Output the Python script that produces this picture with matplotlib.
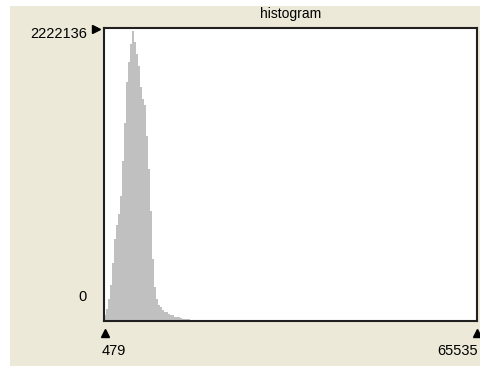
import numpy as np
import matplotlib.pyplot as plt
from matplotlib.patches import Rectangle

# histogram of 16-bit pixel values (counts per bin)
x_min = 479
x_max = 65535
y_max = 2222136
bin_width = 348
counts = [42000, 95000, 171000, 277000, 444000, 627000, 733000, 817000,
          953000, 1219000, 1508000, 1827000, 1979000, 2116000, 2210000,
          2131000, 2040000, 1949000, 1789000, 1690000, 1645000, 1409000,
          1159000, 839000, 475000, 262000, 171000, 125000, 103000, 87000,
          72000, 65000, 57000, 49000, 42000, 34000, 30000, 27000, 23000,
          19000, 17000, 14000, 12000, 10000, 8000, 7000, 5000, 4000]

W, H = 481, 366
bg = '#ECE9D8'

fig = plt.figure(figsize=(W / 100, H / 100), dpi=100)
fig.patch.set_facecolor('white')
fig.patches.append(Rectangle((10 / W, 0), 1, 1 - 6 / H, transform=fig.transFigure,
                             facecolor=bg, edgecolor='none', zorder=-5))

def px(x, y):
    return x / W, 1 - y / H

left, right, top, bottom = 104, 477, 28, 321
ax = fig.add_axes([left / W, 1 - bottom / H, (right - left) / W, (bottom - top) / H])
ax.set_zorder(2)
ax.set_facecolor('white')

edges = x_min + bin_width * np.arange(len(counts) + 1)
ax.stairs(counts, edges, fill=True, facecolor='#C0C0C0', edgecolor='none', zorder=2)

ax.set_xlim(x_min, x_max)
ax.set_ylim(0, y_max * 1.006)
ax.set_xticks([])
ax.set_yticks([])
for s in ax.spines.values():
    s.set_color('#202020')
    s.set_linewidth(1.5)

font = dict(family='Liberation Sans', size=10.5, color='black')
fig.text(*px(291, 14), 'histogram', ha='center', va='center', fontsize=10,
         family='Liberation Sans')
fig.text(*px(87, 34), f'{y_max}', ha='right', va='center', **font)
fig.text(*px(87, 297), '0', ha='right', va='center', **font)
fig.text(*px(102, 351), f'{x_min}', ha='left', va='center', **font)
fig.text(*px(478, 351), f'{x_max}', ha='right', va='center', **font)

# triangle markers
fig.lines.append(plt.Line2D([96 / W], [1 - 29 / H], marker='>', color='black',
                            markersize=6, transform=fig.transFigure))
for xp in (105, 477):
    fig.lines.append(plt.Line2D([xp / W], [1 - 333 / H], marker='^', color='black',
                                markersize=6, transform=fig.transFigure))

fig.savefig('out.png', dpi=100, facecolor=fig.get_facecolor())
